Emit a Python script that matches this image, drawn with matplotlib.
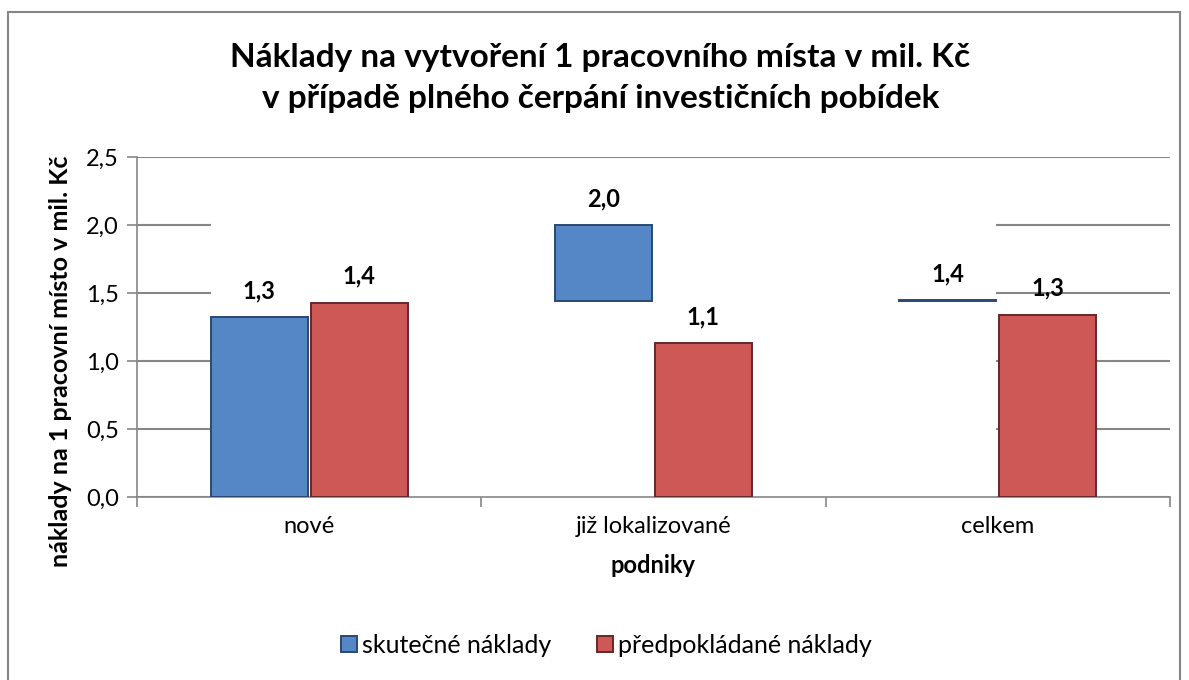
import numpy as np
import matplotlib
matplotlib.use('Agg')
import matplotlib.pyplot as plt
from matplotlib.patches import Rectangle

plt.rcParams['font.family'] = ['Lato', 'DejaVu Sans']

# data
kategorie = ['nové', 'již lokalizované', 'celkem']
skutecne = [1.32, 2.00, 1.45]
predpokladane = [1.43, 1.13, 1.34]
# spodní okraj modrých sloupců (tak jak je vykreslil původní graf)
skutecne_spodek = [0.0, 1.44, 1.44]
yticks = [0.0, 0.5, 1.0, 1.5, 2.0, 2.5]

modra = '#5586C6'
cervena = '#CD5856'

fig = plt.figure(figsize=(11.89, 6.8), dpi=100)
ax = fig.add_axes([0.1152, 0.2691, 0.9840 - 0.1152, 0.5])

x = np.arange(len(kategorie))
w = 0.282
off = 0.145

vyska_modra = np.array(skutecne) - np.array(skutecne_spodek)
ax.bar(x - off, vyska_modra, w, bottom=skutecne_spodek, color=modra,
       edgecolor='#2A4870', linewidth=1.4, zorder=4, label='skutečné náklady')
ax.bar(x + off, predpokladane, w, color=cervena,
       edgecolor='#66282A', linewidth=1.4, zorder=4, label='předpokládané náklady')

# bílá plocha, kterou původní graf zakryl mřížku
ax.add_patch(Rectangle((x[0] - off - w / 2, 0), (x[-1] - off + w / 2) - (x[0] - off - w / 2), 2.2,
                       facecolor='white', edgecolor='none', zorder=2))

# popisky hodnot
for xi, v in zip(x - off, skutecne):
    ax.annotate(f'{v:.1f}'.replace('.', ','), (xi, v), xytext=(0, 19), textcoords='offset points',
                ha='center', va='center', fontsize=17, fontweight='bold', zorder=6)
for xi, v in zip(x + off, predpokladane):
    ax.annotate(f'{v:.1f}'.replace('.', ','), (xi, v), xytext=(0, 19), textcoords='offset points',
                ha='center', va='center', fontsize=17, fontweight='bold', zorder=6)

ax.set_xlim(-0.5, 2.5)
ax.set_ylim(0, 2.5)
ax.set_yticks(yticks)
ax.set_yticklabels([f'{t:.1f}'.replace('.', ',') for t in yticks], fontsize=17)
ax.set_xticks(x)
ax.set_xticklabels(kategorie, fontsize=17)
ax.set_xticks([-0.5, 0.5, 1.5, 2.5], minor=True)
ax.tick_params(axis='x', which='major', length=0, pad=14)
ax.tick_params(axis='x', which='minor', length=7, color='#868686', width=1.2)
ax.tick_params(axis='y', length=7, color='#868686', width=1.2, pad=6)

ax.yaxis.grid(True, color='#868686', linewidth=1.5, zorder=1)
ax.set_axisbelow(True)
for s in ['top', 'right']:
    ax.spines[s].set_visible(False)
for s in ['left', 'bottom']:
    ax.spines[s].set_color('#868686')
    ax.spines[s].set_linewidth(1.2)

ax.set_xlabel('podniky', fontsize=17, fontweight='bold', labelpad=12)
ax.set_ylabel('náklady na 1 pracovní místo v mil. Kč', fontsize=18, fontweight='bold')
ax.yaxis.set_label_coords(-0.063, 0.40)

fig.suptitle('Náklady na vytvoření 1 pracovního místa v mil. Kč\nv případě plného čerpání investičních pobídek',
             x=0.505, y=0.937, fontsize=24, fontweight='bold', linespacing=1.5)

fig.legend(loc='center', bbox_to_anchor=(0.51, 0.051), ncol=2, frameon=False, fontsize=18,
           handlelength=0.65, handleheight=0.65, columnspacing=1.8, handletextpad=0.2)

# rámeček kolem grafu
fig.add_artist(Rectangle((8 / 1189, -0.01), 1172 / 1189, 1 - 12 / 680 + 0.01, transform=fig.transFigure,
                         fill=False, edgecolor='#868686', linewidth=1.5))

fig.savefig('out.png', dpi=100)
